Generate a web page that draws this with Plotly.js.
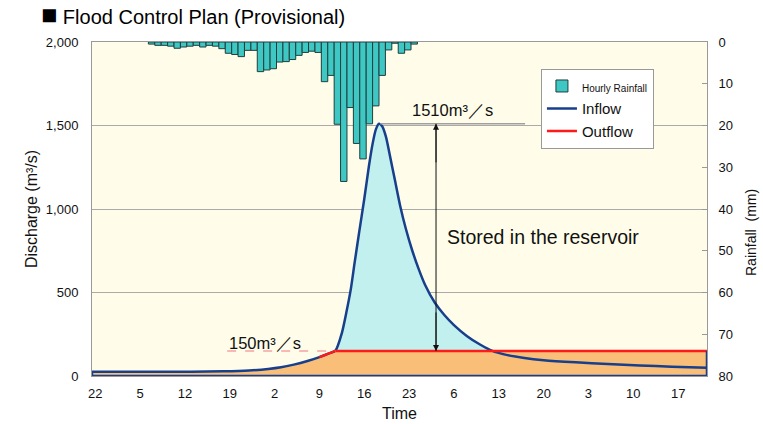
<!DOCTYPE html>
<html>
<head>
<meta charset="utf-8">
<script src="https://cdn.plot.ly/plotly-3.0.1.min.js"></script>
<style>html,body{margin:0;padding:0;background:#fff;}#chart{width:763px;height:424px;}</style>
</head>
<body>
<div id="chart"></div>
<script>
// Time axis: hours from the first tick (22:00)
const tickHours = [0, 7, 14, 21, 28, 35, 42, 49, 56, 63, 70, 77, 84, 91];
const tickLabels = ['22', '5', '12', '19', '2', '9', '16', '23', '6', '13', '20', '3', '10', '17'];

// Hourly rainfall (mm), bar centres in hours
const rainHours = [8.8,9.8,10.8,11.8,12.8,13.8,14.8,15.8,16.8,17.8,18.8,19.8,20.8,21.8,22.8,23.8,24.8,25.8,26.8,27.8,28.8,29.8,30.8,31.8,32.8,33.8,34.8,35.8,36.8,37.8,38.8,39.8,40.8,41.8,42.8,43.8,44.8,45.8,46.8,47.8,48.8,49.8];
const rainValues = [0.5,0.8,0.8,1.0,1.5,1.2,1.0,0.8,1.2,0.8,1.0,1.6,2.7,3.0,3.5,2.0,2.0,7.1,6.7,6.4,4.8,4.7,4.2,3.2,2.5,2.2,2.5,9.5,8.0,19.7,33.4,15.7,24.3,28.0,19.6,15.3,8.0,1.9,0.3,2.7,1.9,0.5];

// Inflow (m3/s)
const inflowHours = [-0.5,5,10,15,20,24,27,29,31,33,35,36.5,37.5,38.5,39.2,39.9,40.5,41.2,42,42.7,43.3,43.8,44.3,44.8,45.4,46,46.8,47.6,48.5,49.5,50.5,51.5,53,54.5,56,58,60,62,64,67,70,75,80,85,90,95.5];
const inflowValues = [25,25,25,26,28,33,42,52,68,88,113,135,152,257,380,520,680,860,1060,1250,1390,1475,1510,1495,1430,1320,1170,1020,880,750,640,545,440,365,305,240,190,150,128,108,95,82,72,63,56,50];

// Outflow (m3/s)
const outflowHours = [-0.5,5,10,15,20,24,27,29,31,33,35,36.5,37.5,95.5];
const outflowValues = [25,25,25,26,28,33,42,52,68,88,113,135,150,150];
const outflowLineStart = 35;   // red line visible from this hour

const peakValue = 1510;
const capValue = 150;
const arrowHour = 53.2;

const FONT = 'Liberation Sans, Arial, sans-serif';

const redIdx = outflowHours.findIndex(h => h >= outflowLineStart);

const traces = [
  { x: inflowHours, y: inflowValues, type: 'scatter', mode: 'none', fill: 'tozeroy',
    fillcolor: '#c2f0ee', showlegend: false, hoverinfo: 'skip' },
  { x: outflowHours, y: outflowValues, type: 'scatter', mode: 'none', fill: 'tozeroy',
    fillcolor: '#f9be78', showlegend: false, hoverinfo: 'skip' },
  { x: inflowHours, y: inflowValues, type: 'scatter', mode: 'lines', name: 'Inflow',
    line: { color: '#173f8c', width: 2.5, shape: 'spline', smoothing: 0.6 }, legendrank: 2 },
  { x: outflowHours.slice(redIdx), y: outflowValues.slice(redIdx), type: 'scatter', mode: 'lines', name: 'Outflow',
    line: { color: '#ff1a1a', width: 2.5 }, legendrank: 3 },
  { x: rainHours, y: rainValues, type: 'bar', yaxis: 'y2', width: 1,
    name: '<span style="font-size:10px">Hourly Rainfall</span>',
    marker: { color: '#3ec7c3', line: { color: '#1e3f3e', width: 1 } }, legendrank: 1 }
];

const x0 = inflowHours[0], x1 = inflowHours[inflowHours.length - 1];

const layout = {
  width: 763, height: 424,
  margin: { l: 92, r: 56, t: 42, b: 48 },
  paper_bgcolor: '#ffffff',
  plot_bgcolor: '#fffde9',
  font: { family: FONT, size: 13, color: '#111' },
  title: { text: '<span style="font-size:27px">■</span> Flood Control Plan (Provisional)',
    font: { family: FONT, size: 20, color: '#000' },
    xref: 'container', yref: 'container', x: 41 / 763, xanchor: 'left', y: 1 - 17 / 424, yanchor: 'middle' },
  showlegend: true,
  legend: { x: 0.73, y: 0.92, xanchor: 'left', yanchor: 'top', bgcolor: '#ffffff',
    bordercolor: '#999', borderwidth: 1, font: { family: FONT, size: 15, color: '#111' },
    traceorder: 'normal', tracegroupgap: 0 },
  bargap: 0,
  xaxis: { range: [x0, x1], tickmode: 'array', tickvals: tickHours, ticktext: tickLabels,
    showgrid: false, zeroline: false, showline: true, linecolor: '#999', mirror: true, ticks: '',
    ticklabelstandoff: 5,
    tickfont: { size: 13, color: '#111' },
    title: { text: 'Time', font: { size: 16, color: '#111' }, standoff: 8 } },
  yaxis: { range: [0, 2000], tickmode: 'array', tickvals: [0, 500, 1000, 1500, 2000], tickformat: ',',
    showgrid: true, gridcolor: '#aaaaaa', gridwidth: 1, zeroline: false, showline: true,
    linecolor: '#999', mirror: true, ticks: '', ticklabelstandoff: 10, tickfont: { size: 13, color: '#111' },
    title: { text: 'Discharge (m³/s)', font: { size: 16, color: '#111' }, standoff: 4 } },
  yaxis2: { overlaying: 'y', side: 'right', range: [80, 0], tickmode: 'array',
    tickvals: [0, 10, 20, 30, 40, 50, 60, 70, 80], showgrid: false, zeroline: false,
    showline: true, linecolor: '#999', ticks: 'inside', ticklen: 5, tickcolor: '#999',
    ticklabelstandoff: 8, tickfont: { size: 13, color: '#111' } },
  shapes: [
    { type: 'line', xref: 'x', yref: 'y', x0: 44.5, x1: 67.1, y0: peakValue, y1: peakValue,
      line: { color: '#a0a0a0', width: 1.5 } },
    { type: 'line', xref: 'x', yref: 'y', x0: 20.6, x1: 37.5, y0: capValue, y1: capValue,
      line: { color: '#f4a3a3', width: 1.5, dash: 'dash' } },
    { type: 'line', xref: 'x', yref: 'y', x0: arrowHour, x1: arrowHour, y0: capValue, y1: peakValue,
      line: { color: '#111', width: 1 } },
    { type: 'path', xref: 'x', yref: 'y',
      path: `M ${x0},${inflowValues[0]} L ${x0},0 L ${x1},0 L ${x1},${capValue}`,
      line: { color: '#173f8c', width: 2.5 } }
  ],
  annotations: [
    { x: 26.5, y: 198, xref: 'x', yref: 'y', text: '150m³／s', showarrow: false,
      font: { size: 16.5, color: '#111' } },
    { x: 55.7, y: 1593, xref: 'x', yref: 'y', text: '1510m³／s', showarrow: false,
      font: { size: 16.5, color: '#111' } },
    { x: 69.9, y: 832, xref: 'x', yref: 'y', text: 'Stored in the reservoir', showarrow: false,
      font: { size: 19.5, color: '#111' } },
    { x: arrowHour, y: peakValue, ax: 0, ay: 40, xref: 'x', yref: 'y',
      text: '', showarrow: true, arrowhead: 2, arrowsize: 1.2, arrowwidth: 1, arrowcolor: '#111' },
    { x: arrowHour, y: capValue, ax: 0, ay: -40, xref: 'x', yref: 'y',
      text: '', showarrow: true, arrowhead: 2, arrowsize: 1.2, arrowwidth: 1, arrowcolor: '#111' },
    { x: (751 - 92) / 615, y: (376 - 233) / 334, xref: 'paper', yref: 'paper', text: 'Rainfall  (mm)',
      xanchor: 'center', yanchor: 'middle',
      textangle: -90, showarrow: false, font: { size: 14, color: '#111' } }
  ]
};

Plotly.newPlot('chart', traces, layout, { displayModeBar: false, staticPlot: true });
</script>
</body>
</html>
